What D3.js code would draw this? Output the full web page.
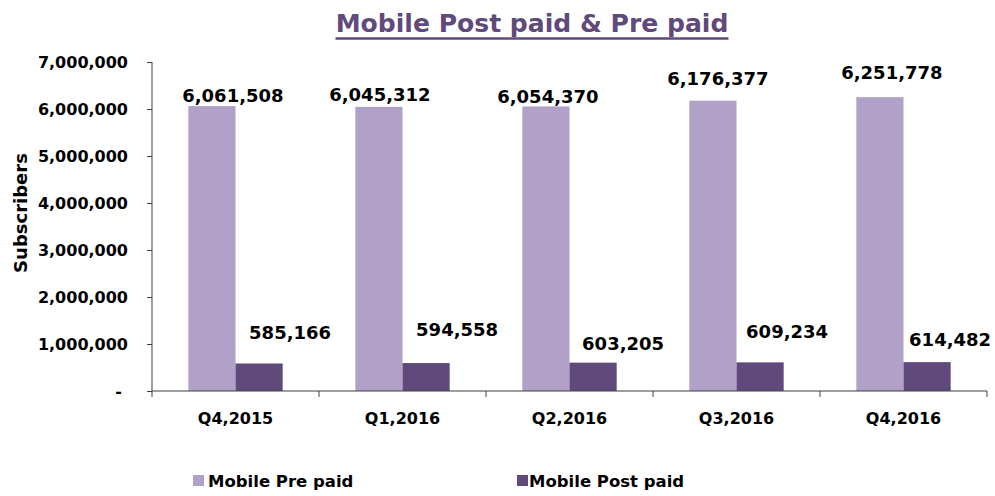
<!DOCTYPE html>
<html>
<head>
<meta charset="utf-8">
<script src="https://cdn.jsdelivr.net/npm/d3@7"></script>
<style>
  body { margin: 0; background: #fff; }
  text { font-family: "DejaVu Sans", sans-serif; font-weight: bold; }
</style>
</head>
<body>
<svg id="drawing_region"></svg>
<script>
// data
const quarters = ['Q4,2015', 'Q1,2016', 'Q2,2016', 'Q3,2016', 'Q4,2016'];
const prePaid  = [6061508, 6045312, 6054370, 6176377, 6251778];
const postPaid = [585166, 594558, 603205, 609234, 614482];
const seriesNames = ['Mobile Pre paid', 'Mobile Post paid'];
const yTicks = [0, 1000000, 2000000, 3000000, 4000000, 5000000, 6000000, 7000000];

// label nudges (px) so labels sit where the original put them
const preNudge  = [[21, -10], [1, -12], [2, -10], [5, -22], [12, -24]];
const postNudge = [[31, -31], [31, -33], [30, -19], [27, -31], [23, -22]];

const colors = ['#b1a0c7', '#604a7b'];

const config = {
    width: 995,
    height: 496,
    margin: {top: 62, right: 8, bottom: 105, left: 152}
};

const svg = d3.select('#drawing_region')
    .attr('width', config.width)
    .attr('height', config.height);

const innerW = config.width - config.margin.left - config.margin.right;
const innerH = 391 - config.margin.top;

const chart = svg.append('g')
    .attr('transform', `translate(${config.margin.left}, ${config.margin.top})`);

const x0 = d3.scaleBand()
    .domain(quarters)
    .range([0, innerW])
    .paddingInner(0)
    .paddingOuter(0);

const x1 = d3.scaleBand()
    .domain(seriesNames)
    .range([0, x0.bandwidth()])
    .paddingInner(0)
    .paddingOuter(0.77);

const y = d3.scaleLinear()
    .domain([0, 7000000])
    .range([innerH, 0]);

// y axis
const yAxis = chart.append('g')
    .call(d3.axisLeft(y).tickValues(yTicks).tickSize(5).tickPadding(19)
        .tickFormat(d => d === 0 ? '-' : d3.format(',')(d)));
yAxis.selectAll('text').attr('font-size', 16).attr('fill', '#000');
yAxis.selectAll('line, path').attr('stroke', '#404040');
yAxis.select('.domain').attr('d', `M0,0V${innerH}`);
yAxis.selectAll('.tick').filter(d => d === 0).select('text').attr('dx', -6);

// bars
const rows = quarters.map((q, i) => ({q: q, i: i, values: [prePaid[i], postPaid[i]]}));

const groups = chart.selectAll('.grp')
    .data(rows)
    .join('g')
    .attr('class', 'grp')
    .attr('transform', d => `translate(${x0(d.q)}, 0)`);

groups.selectAll('rect')
    .data(d => d.values.map((v, k) => ({name: seriesNames[k], v: v, k: k, i: d.i})))
    .join('rect')
    .attr('x', d => x1(d.name))
    .attr('y', d => y(d.v))
    .attr('width', x1.bandwidth())
    .attr('height', d => innerH - y(d.v))
    .attr('fill', d => colors[d.k]);

groups.selectAll('.lbl')
    .data(d => d.values.map((v, k) => ({name: seriesNames[k], v: v, k: k, i: d.i})))
    .join('text')
    .attr('class', 'lbl')
    .attr('x', d => x1(d.name) + x1.bandwidth() / 2 + (d.k === 0 ? preNudge : postNudge)[d.i][0])
    .attr('y', d => y(d.v) + (d.k === 0 ? preNudge : postNudge)[d.i][1])
    .attr('dy', '0.35em')
    .attr('text-anchor', 'middle')
    .attr('font-size', 18)
    .attr('fill', '#000')
    .text(d => d3.format(',')(d.v));

// x axis
const xAxis = chart.append('g')
    .attr('transform', `translate(0, ${innerH})`)
    .call(d3.axisBottom(x0).tickSize(0).tickPadding(22));
xAxis.selectAll('text').attr('font-size', 16).attr('fill', '#000');
xAxis.select('.domain').attr('stroke', '#404040').attr('d', `M0,0H${innerW}`);
xAxis.selectAll('.sep')
    .data(d3.range(quarters.length + 1))
    .join('line')
    .attr('class', 'sep')
    .attr('x1', d => d * x0.bandwidth())
    .attr('x2', d => d * x0.bandwidth())
    .attr('y1', 0)
    .attr('y2', 6)
    .attr('stroke', '#404040');

// y title
svg.append('text')
    .attr('transform', 'translate(27, 213) rotate(-90)')
    .attr('text-anchor', 'middle')
    .attr('font-size', 18)
    .attr('fill', '#000')
    .text('Subscribers');

// title with underline
const title = svg.append('text')
    .attr('x', 532)
    .attr('y', 32)
    .attr('text-anchor', 'middle')
    .attr('font-size', 24)
    .attr('fill', '#604a7b')
    .text('Mobile Post paid & Pre paid');
const tw = title.node().getComputedTextLength();
const fs = 24 * 393 / tw;
title.attr('font-size', fs);
svg.append('line')
    .attr('x1', 532 - 393 / 2).attr('x2', 532 + 393 / 2)
    .attr('y1', 38.5).attr('y2', 38.5)
    .attr('stroke', '#604a7b')
    .attr('stroke-width', 2.5);

// legend
const legendX = [193, 517];
const legend = svg.selectAll('.leg')
    .data(seriesNames)
    .join('g')
    .attr('class', 'leg')
    .attr('transform', (d, i) => `translate(${legendX[i]}, 475)`);
legend.append('rect')
    .attr('width', 11).attr('height', 11)
    .attr('fill', (d, i) => colors[i]);
legend.append('text')
    .attr('x', (d, i) => i === 0 ? 15 : 12)
    .attr('y', 6)
    .attr('dy', '0.35em')
    .attr('font-size', 16.5)
    .attr('fill', '#000')
    .text(d => d);
</script>
</body>
</html>
